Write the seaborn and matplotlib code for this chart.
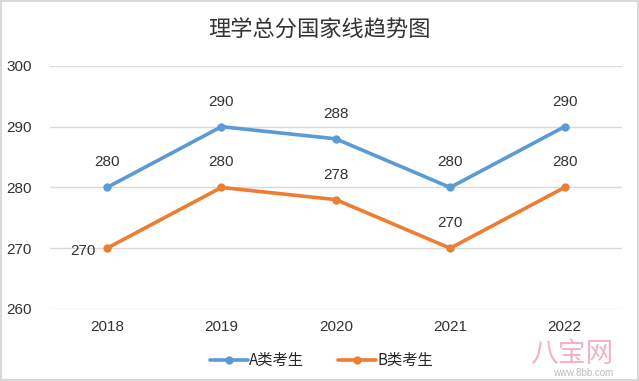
import matplotlib.pyplot as plt
import pandas as pd
import seaborn as sns

years = ['2018', '2019', '2020', '2021', '2022']
series_a = [280, 290, 288, 280, 290]
series_b = [270, 280, 278, 270, 280]
names = ['A类考生', 'B类考生']
y_ticks = [260, 270, 280, 290, 300]

sns.set_theme(style='white')
plt.rcParams['font.family'] = ['Liberation Sans', 'Noto Sans CJK SC']

df = pd.DataFrame({
    'year': years * 2,
    'score': series_a + series_b,
    'group': [names[0]] * len(years) + [names[1]] * len(years),
})
df['x'] = df.groupby('group').cumcount()

colors = {names[0]: '#5B9BD5', names[1]: '#ED7D31'}

fig = plt.figure(figsize=(6.39, 3.81), dpi=100)
fig.patch.set_facecolor('white')
fig.patch.set_edgecolor('#d9d9d9')
fig.patch.set_linewidth(1.5)
ax = fig.add_axes([0.078, 0.189, 0.895, 0.638])

sns.lineplot(data=df, x='x', y='score', hue='group', palette=colors, ax=ax,
             marker='o', markersize=6, markeredgewidth=0, linewidth=2.6)

ax.set_xlim(-0.5, len(years) - 0.5)
ax.set_ylim(260, 300)
ax.set_yticks(y_ticks)
ax.set_xticks(range(len(years)))
ax.set_xticklabels(years)
ax.grid(axis='y', color='#d9d9d9', linewidth=1)
ax.set_axisbelow(True)
for s in ax.spines.values():
    s.set_visible(False)
ax.tick_params(axis='both', length=0, labelsize=11, colors='#333333')
ax.tick_params(axis='y', pad=13)
ax.tick_params(axis='x', pad=8)
ax.set_xlabel('')
ax.set_ylabel('')

# data labels
for i, v in enumerate(series_a):
    ax.annotate(str(v), (i, v), xytext=(0, 13), textcoords='offset points',
                ha='center', va='bottom', fontsize=11, color='#333333')
for i, v in enumerate(series_b):
    if i == 0:
        ax.annotate(str(v), (i, v), xytext=(-8, -2), textcoords='offset points',
                    ha='right', va='center', fontsize=11, color='#333333')
    else:
        ax.annotate(str(v), (i, v), xytext=(0, 13), textcoords='offset points',
                    ha='center', va='bottom', fontsize=11, color='#333333')

ax.legend(loc='upper center', bbox_to_anchor=(0.475, -0.12), ncol=2, frameon=False,
          handlelength=2.5, columnspacing=2.2, handletextpad=0.1,
          prop={'family': ['Noto Sans CJK SC'], 'size': 11})

fig.suptitle('理学总分国家线趋势图', y=0.95, fontsize=16, color='#333333',
             family=['Noto Sans CJK SC'], fontweight='light')

# watermark
fig.text(0.96, 0.07, '八宝网', ha='right', va='center', fontsize=20, color='#f0a0b5',
         alpha=0.8, family=['Noto Sans CJK SC'])
fig.text(0.96, 0.02, 'www.8bb.com', ha='right', va='center', fontsize=7, color='#bbbbbb')

fig.savefig('out.png', dpi=100)
